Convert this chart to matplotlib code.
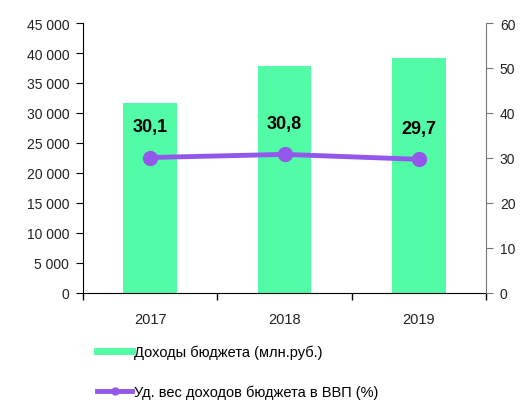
import matplotlib.pyplot as plt
from matplotlib.ticker import FuncFormatter, FixedLocator

plt.rcParams['font.family'] = ['Liberation Sans', 'DejaVu Sans']

# données
years = ["2017", "2018", "2019"]
revenue = [31700, 37800, 39200]      # Доходы бюджета (млн.руб.)
share_gdp = [30.1, 30.8, 29.7]       # Уд. вес в ВВП (%)
share_labels = ["30,1", "30,8", "29,7"]

green = "#52fca6"
purple = "#9457eb"

fig = plt.figure(figsize=(5.23, 4.14), dpi=100)
ax = fig.add_axes([0.159, 0.290, 0.770, 0.652])
x = list(range(len(years)))

ax.bar(x, revenue, width=0.4, color=green, zorder=1)
ax.set_ylim(0, 45000)
ax.set_yticks(range(0, 45001, 5000))
ax.yaxis.set_major_formatter(FuncFormatter(lambda v, p: "{:,.0f}".format(v).replace(",", " ")))
ax.set_xlim(-0.5, 2.5)
ax.set_xticks(x)
ax.set_xticklabels(years)
ax.xaxis.set_minor_locator(FixedLocator([-0.5, 0.5, 1.5, 2.5]))
ax.tick_params(axis="x", which="major", length=0, pad=14, labelsize=10.5, labelcolor="#222222")
ax.tick_params(axis="x", which="minor", length=5, width=1)
ax.tick_params(axis="y", length=5, labelsize=10, pad=5, labelcolor="#222222")
for s in ["top", "right"]:
    ax.spines[s].set_visible(False)

ax2 = ax.twinx()
ax2.plot(x, share_gdp, color=purple, lw=3.5, marker="o", ms=10, zorder=3)
ax2.set_ylim(0, 60)
ax2.set_yticks(range(0, 61, 10))
ax2.tick_params(axis="y", length=5, labelsize=10, pad=5, color="#777777", labelcolor="#222222")
for s in ["top", "left", "bottom"]:
    ax2.spines[s].set_visible(False)
ax2.spines["right"].set_color("#777777")
for xi, v, lab in zip(x, share_gdp, share_labels):
    ax2.annotate(lab, (xi, v), xytext=(0, 16), textcoords="offset points",
                 ha="center", va="bottom", fontsize=13, fontweight="bold")

h1, = plt.plot([], [], color=green, lw=5)
h2, = plt.plot([], [], color=purple, lw=3.5, marker="o", ms=5)
fig.legend([h1, h2], ["Доходы бюджета (млн.руб.)", "Уд. вес доходов бюджета в ВВП (%)"],
           loc="upper left", bbox_to_anchor=(0.175, 0.18), frameon=False,
           fontsize=10.5, handlelength=2.4, handletextpad=0.1, labelspacing=1.75,
           borderaxespad=0)

fig.savefig("out.png", dpi=100)
